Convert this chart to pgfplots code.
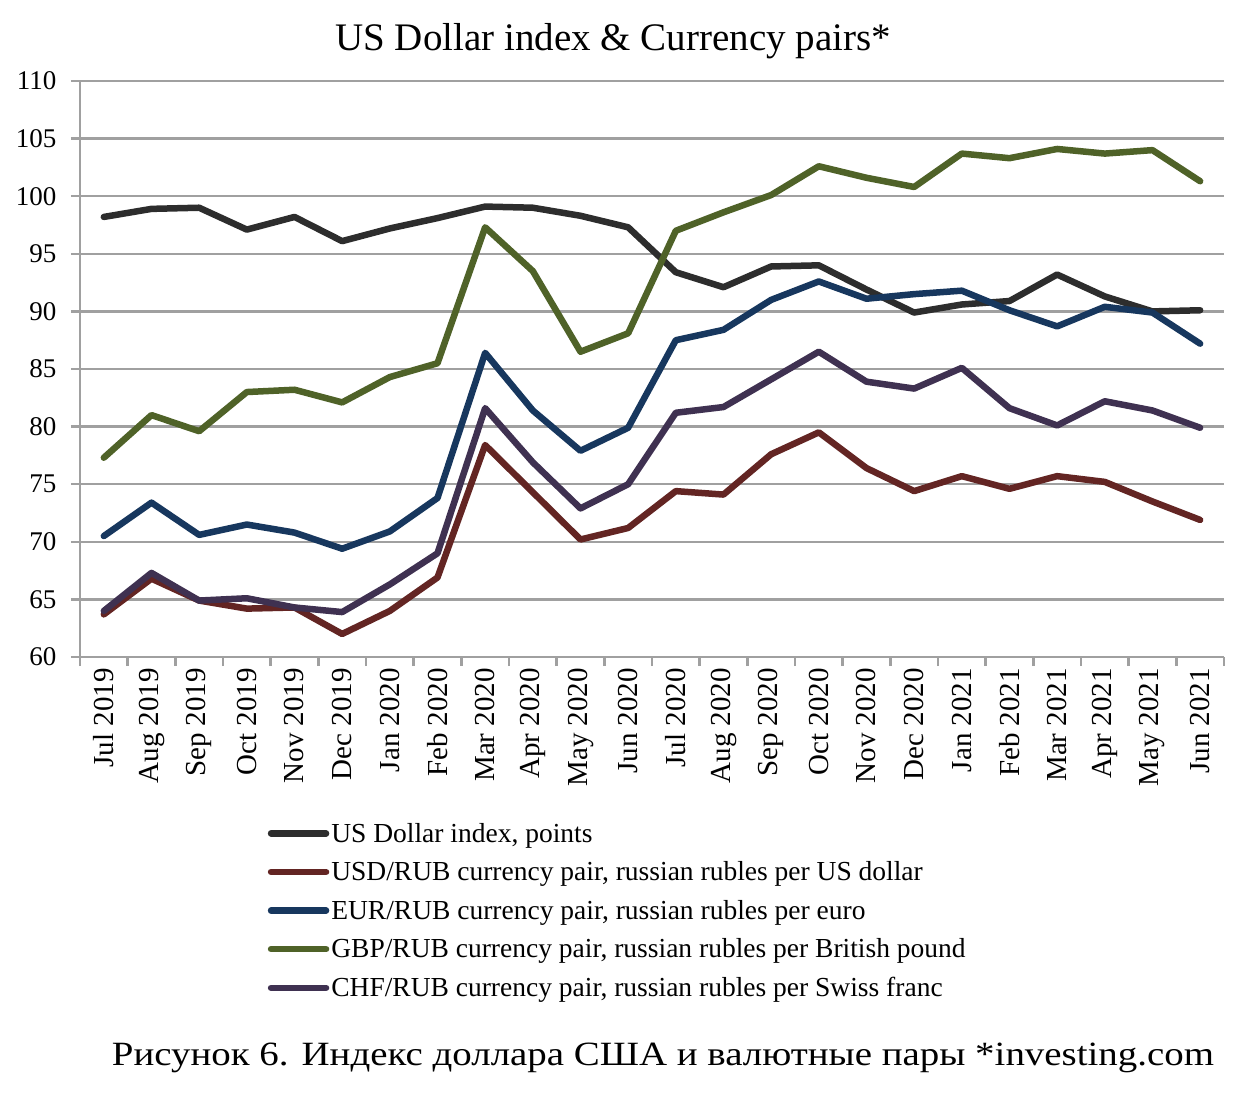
\documentclass[border=0pt]{standalone}
\usepackage{fontspec}
\setmainfont{Liberation Serif}
\usepackage{graphicx}
\usepackage{pgfplots}
\pgfplotsset{compat=1.18}
\definecolor{cUSD}{RGB}{45,45,45}
\definecolor{cUR}{RGB}{99,37,35}
\definecolor{cER}{RGB}{23,55,94}
\definecolor{cGR}{RGB}{79,98,40}
\definecolor{cCR}{RGB}{63,49,81}
\definecolor{cGrid}{RGB}{160,160,160}
\begin{document}
\begin{tikzpicture}
\begin{axis}[
  scale only axis, width=1144pt, height=576pt,
  xmin=-0.5, xmax=23.5, ymin=60, ymax=110,
  axis x line*=bottom, axis y line*=left,
  axis line style={draw=cGrid, line width=2.5pt},
  ymajorgrids, grid style={draw=cGrid, line width=2.5pt},
  ytick={60,65,...,110},
  xtick={-0.5,0.5,...,23.5}, xticklabels={},
  extra x ticks={0,1,...,23},
  extra x tick labels={Jul 2019,Aug 2019,Sep 2019,Oct 2019,Nov 2019,Dec 2019,Jan 2020,Feb 2020,Mar 2020,Apr 2020,May 2020,Jun 2020,Jul 2020,Aug 2020,Sep 2020,Oct 2020,Nov 2020,Dec 2020,Jan 2021,Feb 2021,Mar 2021,Apr 2021,May 2021,Jun 2021},
  extra x tick style={major tick length=0pt, tick label style={font=\fontsize{29}{32}\selectfont, rotate=90, anchor=east, inner sep=0pt, xshift=-11pt}},
  tick align=outside, major tick length=9pt,
  tick style={draw=cGrid, line width=2.5pt},
  /pgf/number format/assume math mode=true,
  tick label style={font=\fontsize{27}{30}\selectfont, text=black},
  yticklabel style={xshift=-11pt},
  title={US Dollar index \& Currency pairs*},
  title style={font=\fontsize{39}{41}\selectfont, at={(rel axis cs:0.466,1)}, anchor=base, yshift=25pt, inner sep=0pt},
  legend style={draw=none, fill=none, at={(rel axis cs:0.164,-0.288)}, anchor=north west,
    font=\fontsize{27.5}{30}\selectfont, row sep=18pt, inner xsep=0pt, inner ysep=0pt,
    nodes={inner xsep=2pt, inner ysep=0pt}},
  legend cell align=left,
  legend image code/.code={\draw[#1, line cap=round] (0pt,0pt) -- (55pt,0pt);},
  every axis plot/.append style={line width=6.5pt, line join=round, line cap=round},
]
\addplot[cUSD] coordinates {(0,98.2)(1,98.9)(2,99.0)(3,97.1)(4,98.2)(5,96.1)(6,97.2)(7,98.1)(8,99.1)(9,99.0)(10,98.3)(11,97.3)(12,93.4)(13,92.1)(14,93.9)(15,94.0)(16,91.9)(17,89.9)(18,90.6)(19,90.9)(20,93.2)(21,91.3)(22,90.0)(23,90.1)};
\addlegendentry{US Dollar index, points}
\addplot[cUR] coordinates {(0,63.7)(1,66.8)(2,64.9)(3,64.2)(4,64.3)(5,62.0)(6,64.0)(7,66.9)(8,78.4)(9,74.3)(10,70.2)(11,71.2)(12,74.4)(13,74.1)(14,77.6)(15,79.5)(16,76.4)(17,74.4)(18,75.7)(19,74.6)(20,75.7)(21,75.2)(22,73.5)(23,71.9)};
\addlegendentry{USD/RUB currency pair, russian rubles per US dollar}
\addplot[cER] coordinates {(0,70.5)(1,73.4)(2,70.6)(3,71.5)(4,70.8)(5,69.4)(6,70.9)(7,73.8)(8,86.4)(9,81.4)(10,77.9)(11,79.9)(12,87.5)(13,88.4)(14,91.0)(15,92.6)(16,91.1)(17,91.5)(18,91.8)(19,90.1)(20,88.7)(21,90.4)(22,89.9)(23,87.2)};
\addlegendentry{EUR/RUB currency pair, russian rubles per euro}
\addplot[cGR] coordinates {(0,77.3)(1,81.0)(2,79.6)(3,83.0)(4,83.2)(5,82.1)(6,84.3)(7,85.5)(8,97.3)(9,93.5)(10,86.5)(11,88.1)(12,97.0)(13,98.6)(14,100.1)(15,102.6)(16,101.6)(17,100.8)(18,103.7)(19,103.3)(20,104.1)(21,103.7)(22,104.0)(23,101.3)};
\addlegendentry{GBP/RUB currency pair, russian rubles per British pound}
\addplot[cCR] coordinates {(0,64.0)(1,67.3)(2,64.9)(3,65.1)(4,64.3)(5,63.9)(6,66.3)(7,69.0)(8,81.6)(9,76.9)(10,72.9)(11,75.0)(12,81.2)(13,81.7)(14,84.1)(15,86.5)(16,83.9)(17,83.3)(18,85.1)(19,81.6)(20,80.1)(21,82.2)(22,81.4)(23,79.9)};
\addlegendentry{CHF/RUB currency pair, russian rubles per Swiss franc}
\end{axis}
\node[font=\fontsize{34}{36}\selectfont, anchor=base, inner sep=0pt] at (583pt,-408pt) {\resizebox{1102pt}{\height}{Рисунок 6. Индекс доллара США и валютные пары *investing.com}};
\useasboundingbox (-80pt,-452pt) rectangle (1162pt,657pt);
\end{tikzpicture}
\end{document}
